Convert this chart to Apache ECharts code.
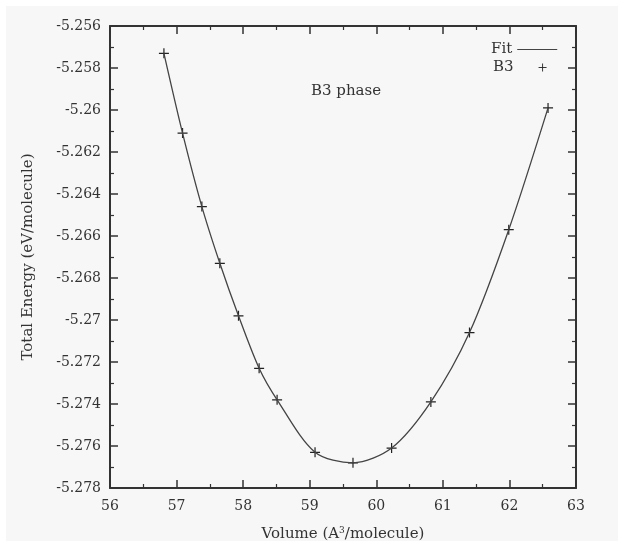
<!DOCTYPE html>
<html>
<head>
<meta charset="utf-8">
<script src="https://cdn.jsdelivr.net/npm/echarts@6/dist/echarts.min.js"></script>
<style>
  html, body { margin: 0; padding: 0; background: #ffffff; }
  #main { width: 624px; height: 547px; }
</style>
</head>
<body>
<div id="main"></div>
<script>
// volumes (A^3/molecule) and energies (eV/molecule)
var volumes = [56.81, 57.09, 57.38, 57.65, 57.93, 58.24, 58.51, 59.08, 59.65, 60.23, 60.82, 61.40, 61.99, 62.58];
var energies = [-5.2573, -5.2611, -5.2646, -5.2673, -5.2698, -5.2723, -5.2738, -5.2763, -5.2768, -5.2761, -5.2739, -5.2706, -5.2657, -5.2599];
var xTicks = { min: 56, max: 63, step: 1 };
var yTicks = { min: -5.278, max: -5.256, step: 0.002 };

var points = volumes.map(function (v, i) { return [v, energies[i]]; });

var serif = '"DejaVu Serif", "Liberation Serif", serif';
var ink = '#333333';
var plusPath = 'path://M-5,0 L5,0 M0,-5 L0,5';

function yLabel(v) {
	return parseFloat(v.toFixed(3)).toString();
}

function axisBase(pos, showLabel) {
	return {
		type : 'value',
		position : pos,
		axisLine : { show : true, onZero : false, lineStyle : { color : ink, width : 2 } },
		axisTick : { show : true, inside : true, length : 8, lineStyle : { color : ink, width : 1.5 } },
		minorTick : { show : true, splitNumber : 2, length : 4, lineStyle : { color : ink, width : 1.2 } },
		splitLine : { show : false },
		axisLabel : { show : showLabel, color : ink, fontFamily : serif, fontSize : 14, margin : 9 }
	};
}

var xBottom = axisBase('bottom', true);
xBottom.min = xTicks.min; xBottom.max = xTicks.max; xBottom.interval = xTicks.step;
xBottom.axisLabel.margin = 11;
xBottom.name = 'Volume (A{s|3}/molecule)';
xBottom.nameLocation = 'middle';
xBottom.nameGap = 38;
xBottom.nameTextStyle = { color : ink, fontFamily : serif, fontSize : 15,
	rich : { s : { fontFamily : serif, fontSize : 9, verticalAlign : 'top', padding : [0, 0, 8, 0], color : ink } } };

var xTop = axisBase('top', false);
xTop.min = xTicks.min; xTop.max = xTicks.max; xTop.interval = xTicks.step;

var yLeft = axisBase('left', true);
yLeft.min = yTicks.min; yLeft.max = yTicks.max; yLeft.interval = yTicks.step;
yLeft.axisLabel.formatter = yLabel;
yLeft.name = 'Total Energy (eV/molecule)';
yLeft.nameLocation = 'middle';
yLeft.nameGap = 74;
yLeft.nameTextStyle = { color : ink, fontFamily : serif, fontSize : 15 };

var yRight = axisBase('right', false);
yRight.min = yTicks.min; yRight.max = yTicks.max; yRight.interval = yTicks.step;

var legendText = { color : ink, fontFamily : serif, fontSize : 15 };

var option = {
	animation : false,
	backgroundColor : '#ffffff',
	graphic : [ {
		type : 'rect', z : -100, silent : true,
		shape : { x : 6, y : 6, width : 612, height : 535 },
		style : { fill : '#f7f7f7' }
	} ],
	title : {
		text : 'B3 phase',
		left : 306, top : 79,
		textStyle : { color : ink, fontFamily : serif, fontSize : 15, fontWeight : 'normal' }
	},
	legend : [ {
		left : 486, top : 37,
		align : 'right',
		itemWidth : 40, itemHeight : 14,
		textStyle : legendText,
		data : [ { name : 'Fit', icon : 'path://M0,0 L40,0 L40,1.2 L0,1.2 Z' } ]
	}, {
		left : 488, top : 55,
		align : 'right',
		itemWidth : 8, itemHeight : 14,
		itemStyle : { borderWidth : 0.9 },
		textStyle : { color : ink, fontFamily : serif, fontSize : 15, padding : [0, 20, 0, 0] },
		data : [ 'B3' ]
	} ],
	grid : { left : 110, top : 26, width : 466, height : 465 },
	xAxis : [ xBottom, xTop ],
	yAxis : [ yLeft, yRight ],
	series : [ {
		name : 'Fit',
		type : 'line',
		data : points,
		smooth : 0.3,
		symbol : 'none',
		lineStyle : { color : '#444444', width : 1.3 },
		itemStyle : { color : '#444444' }
	}, {
		name : 'B3',
		type : 'scatter',
		data : points,
		symbol : plusPath,
		symbolSize : 10,
		itemStyle : { color : 'transparent', borderColor : '#222222', borderWidth : 1.2, opacity : 1 }
	} ]
};

var myChart = echarts.init(document.getElementById('main'));
myChart.setOption(option);
</script>
</body>
</html>
